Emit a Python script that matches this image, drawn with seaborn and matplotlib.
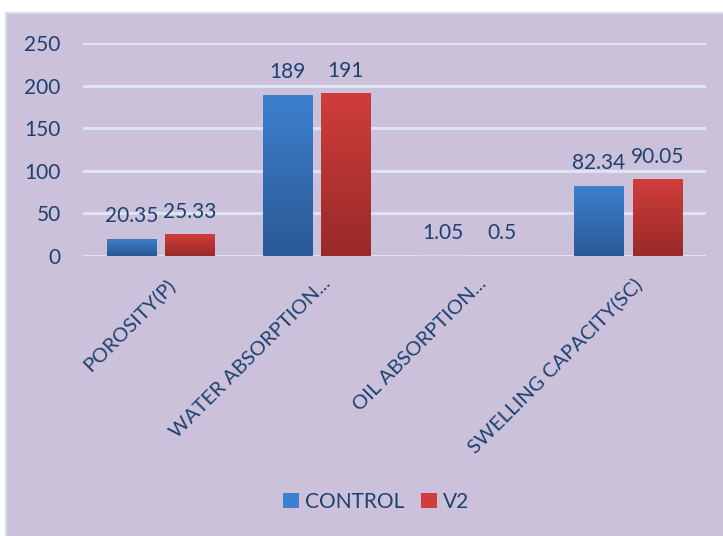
import numpy as np
import pandas as pd
import matplotlib
matplotlib.use("Agg")
import matplotlib.pyplot as plt
import seaborn as sns
from matplotlib.colors import LinearSegmentedColormap
from matplotlib.patches import Rectangle, Patch
from matplotlib.transforms import offset_copy

categories = ["POROSITY(P)", "WATER ABSORPTION...", "OIL ABSORPTION...", "SWELLING CAPACITY(SC)"]
series = ["CONTROL", "V2"]
control_vals = [20.35, 189, 1.05, 82.34]
v2_vals = [25.33, 191, 0.5, 90.05]
yticks = [0, 50, 100, 150, 200, 250]

df = pd.DataFrame({
    "category": categories * 2,
    "series": [series[0]] * 4 + [series[1]] * 4,
    "value": control_vals + v2_vals,
})

BG = "#CBC1DA"
TXT = "#1F4170"
GRID = "#DCE5F2"
BLUE_TOP, BLUE_BOT = "#3D80CF", "#2A5995"
RED_TOP, RED_BOT = "#D03D3A", "#982A29"

sns.set_theme(style="white")
plt.rcParams["font.family"] = ["Lato", "DejaVu Sans"]

W, H = 723, 536
fig = plt.figure(figsize=(W / 100, H / 100), dpi=100)
fig.patch.set_facecolor("white")
fig.patches.append(Rectangle((6 / W, -0.01), 1.0, 1 - 13 / H + 0.01, transform=fig.transFigure,
                             facecolor=BG, edgecolor="#D3DDEC", linewidth=1.5, zorder=-5))

ax = fig.add_axes([83 / W, 1 - 256 / H, (706 - 83) / W, (256 - 43) / H])
ax.set_facecolor("none")

sns.barplot(data=df, x="category", y="value", hue="series", order=categories,
            hue_order=series, palette=[BLUE_TOP, RED_TOP], width=0.75, gap=0.155,
            saturation=1, ax=ax, zorder=3, edgecolor="none")
if ax.legend_ is not None:
    ax.legend_.remove()

ax.set_ylim(0, 250)
ax.set_xlim(-0.5, 3.5)
ax.set_yticks(yticks)
ax.yaxis.grid(True, color=GRID, linewidth=2.2, zorder=1)
ax.set_axisbelow(True)
for s in ax.spines.values():
    s.set_visible(False)
ax.set_xlabel("")
ax.set_ylabel("")
ax.tick_params(axis="y", length=0, pad=16, labelsize=15, labelcolor=TXT)
ax.tick_params(axis="x", length=0)

# gradient fill on bars
cmaps = [LinearSegmentedColormap.from_list("b", [BLUE_BOT, BLUE_TOP]),
         LinearSegmentedColormap.from_list("r", [RED_BOT, RED_TOP])]
grad = np.linspace(0, 1, 256).reshape(-1, 1)
for cont, cm in zip(ax.containers, cmaps):
    for bar in cont:
        x0, y0 = bar.get_x(), bar.get_y()
        w, h = bar.get_width(), bar.get_height()
        if h <= 2:
            bar.set_alpha(0.08)
            continue
        im = ax.imshow(grad, cmap=cm, origin="lower", aspect="auto",
                       extent=[x0, x0 + w, y0, y0 + h], zorder=3.5)
        im.set_clip_path(bar)
    ax.bar_label(cont, labels=[f"{v:g}" for v in cont.datavalues], padding=9,
                 fontsize=15, color=TXT, zorder=5)
ax.set_xlim(-0.5, 3.5)
ax.set_ylim(0, 250)

# x tick labels rotated
ax.set_xticks(range(len(categories)))
ax.set_xticklabels([])
for i, lab in enumerate(categories):
    tr = offset_copy(ax.get_xaxis_transform(), fig=fig, x=5, y=-19, units="dots")
    ax.text(i, 0, lab, transform=tr, rotation=45, ha="right", va="top",
            rotation_mode="anchor", fontsize=14.6, color=TXT)

handles = [Patch(facecolor=BLUE_TOP, edgecolor="none"), Patch(facecolor=RED_TOP, edgecolor="none")]
fig.legend(handles, series, loc="center", bbox_to_anchor=(376 / W, 1 - 502 / H),
           ncol=2, frameon=False, fontsize=15, labelcolor=TXT, handlelength=0.75,
           handleheight=0.75, handletextpad=0.3, columnspacing=0.8)

fig.savefig("out.png", dpi=100, facecolor=fig.get_facecolor())
